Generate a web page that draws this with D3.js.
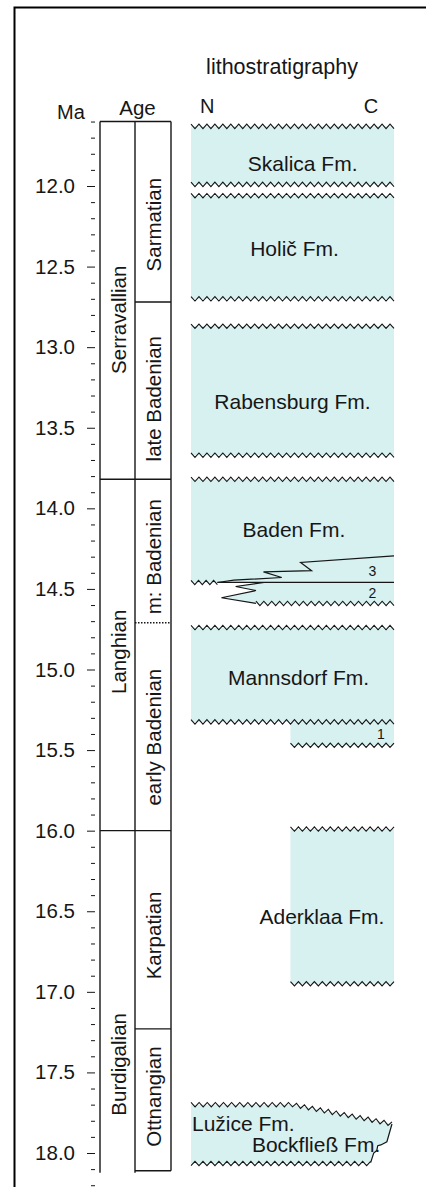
<!DOCTYPE html>
<html>
<head>
<meta charset="utf-8">
<script src="https://cdn.jsdelivr.net/npm/d3@7"></script>
<style>
  body { margin: 0; background: #fff; }
  svg { display: block; font-family: "Liberation Sans", Arial, sans-serif; }
</style>
</head>
<body>
<div id="chart"></div>
<script>

var majorTicks = [12.0, 12.5, 13.0, 13.5, 14.0, 14.5, 15.0, 15.5, 16.0, 16.5, 17.0, 17.5, 18.0];
var chartTop = 11.6, chartBase = 18.11;

var epochs = [
  { name: "Serravallian", top: 11.6, base: 13.82, labelAge: 12.83 },
  { name: "Langhian", top: 13.82, base: 16.0, labelAge: 14.89 },
  { name: "Burdigalian", top: 16.0, base: 18.11, labelAge: 17.45 }
];

var stages = [
  { name: "Sarmatian", top: 11.6, base: 12.72, labelAge: 12.24 },
  { name: "late Badenian", top: 12.72, base: 13.82, labelAge: 13.32 },
  { name: "m: Badenian", top: 13.82, base: 14.71, labelAge: 14.30, dotted: true },
  { name: "early Badenian", top: 14.71, base: 16.0, labelAge: 15.42 },
  { name: "Karpatian", top: 16.0, base: 17.23, labelAge: 16.65 },
  { name: "Ottnangian", top: 17.23, base: 18.11, labelAge: 17.65 }
];

// from / to = share of the lithostratigraphy column (0 = N, 1 = C)
var formations = [
  { name: "Skalica Fm.", from: 0, to: 1, top: 11.63, base: 11.99, labelAge: 11.86, labelAt: 0.55 },
  { name: "Holič Fm.", from: 0, to: 1, top: 12.06, base: 12.70, labelAge: 12.39, labelAt: 0.51 },
  { name: "Rabensburg Fm.", from: 0, to: 1, top: 12.87, base: 13.67, labelAge: 13.34, labelAt: 0.5 },
  { name: "Mannsdorf Fm.", from: 0, to: 1, top: 14.74, base: 15.325, labelAge: 15.05, labelAt: 0.53 },
  { name: "Aderklaa Fm.", from: 0.49, to: 1, top: 15.99, base: 16.95, labelAge: 16.53, labelAt: 0.645 }
];

var badenTop = 13.82, badenLabelAge = 14.13, wedgeAge = 14.46, unit2Base = 14.59;
var wedgeUpper = [[1.0, 14.295], [0.54, 14.336], [0.594, 14.387], [0.357, 14.394], [0.447, 14.429], [0.211, 14.446], [0.13, 14.46]];
var wedgeLower = [[0.36, 14.46], [0.22, 14.485], [0.32, 14.51], [0.15, 14.555], [0.32, 14.59]];
var unit1 = { from: 0.49, to: 1, top: 15.325, base: 15.47 };

var unitLabels = [
  { name: "3", at: 0.893, age: 14.39 },
  { name: "2", at: 0.893, age: 14.527 },
  { name: "1", at: 0.935, age: 15.40 }
];

var luziceTop = [[0, 17.70], [0.5, 17.70], [0.99, 17.82]];
var luziceEdge = [[0.99, 17.82], [0.965, 17.93], [0.935, 17.95], [0.92, 17.955], [0.915, 17.985], [0.90, 18.0], [0.885, 18.06]];
var luziceBase = 18.065;
var luziceLabels = [
  { name: "Lužice Fm.", at: 0.005, age: 17.82 },
  { name: "Bockfließ Fm.", at: 0.30, age: 17.95 }
];

var fillColor = "#d7f0f0", ink = "#161616";

var width = 426, height = 1187;
var svg = d3.select("#chart").append("svg").attr("width", width).attr("height", height);

var y = d3.scaleLinear().domain([12, 18]).range([186, 1153]);
var x = d3.scaleLinear().domain([0, 1]).range([191, 394]);
var colEpoch = [100, 135], colStage = [135, 171];

// outer frame (only left and top visible)
svg.append("path").attr("d", "M14.5," + height + "V7.5H" + width)
  .attr("fill", "none").attr("stroke", "#000").attr("stroke-width", 2);

// wavy line along a pixel polyline
function wavy(pts) {
  var out = [], step = 4, amp = 2.2, k = 0;
  for (var i = 0; i < pts.length - 1; i++) {
    var a = pts[i], b = pts[i + 1];
    var len = Math.hypot(b[0] - a[0], b[1] - a[1]);
    var n = Math.max(1, Math.round(len / step));
    for (var j = (i == 0 ? 0 : 1); j <= n; j++) {
      var t = j / n;
      out.push([a[0] + (b[0] - a[0]) * t, a[1] + (b[1] - a[1]) * t + (k % 2 ? amp : -amp)]);
      k++;
    }
  }
  return d3.line()(out);
}
function px(p) { return [x(p[0]), y(p[1])]; }

var litho = svg.append("g");

// formation blocks
litho.selectAll("rect.fm")
  .data(formations.concat([{ from: 0, to: 1, top: badenTop, base: wedgeAge }, unit1]))
  .enter().append("rect")
  .attr("class", "fm")
  .attr("x", function(d) { return x(d.from); })
  .attr("width", function(d) { return x(d.to) - x(d.from); })
  .attr("y", function(d) { return y(d.top); })
  .attr("height", function(d) { return y(d.base) - y(d.top); })
  .attr("fill", fillColor);

// unit 2 wedge
var unit2 = [[wedgeLower[0][0], wedgeAge], [1, wedgeAge], [1, unit2Base]].concat(wedgeLower.slice().reverse());
litho.append("path").attr("d", d3.line()(unit2.map(px)) + "Z").attr("fill", fillColor);

// Lužice / Bockfließ
var luzice = luziceTop.concat(luziceEdge.slice(1)).concat([[0, luziceBase]]);
litho.append("path").attr("d", d3.line()(luzice.map(px)) + "Z").attr("fill", fillColor);

// wavy boundaries
var waves = [];
formations.forEach(function(d) {
  waves.push([[d.from, d.top], [d.to, d.top]]);
  waves.push([[d.from, d.base], [d.to, d.base]]);
});
waves.push([[0, badenTop], [1, badenTop]]);
waves.push([[0, wedgeAge], [0.13, wedgeAge]]);
waves.push([[wedgeLower[wedgeLower.length - 1][0], unit2Base], [1, unit2Base]]);
waves.push([[unit1.from, unit1.base], [unit1.to, unit1.base]]);
waves.push(luziceTop);
waves.push([[luziceEdge[luziceEdge.length - 1][0], luziceBase], [0, luziceBase]]);

litho.selectAll("path.wave").data(waves).enter().append("path")
  .attr("class", "wave")
  .attr("d", function(d) { return wavy(d.map(px)); })
  .attr("fill", "none").attr("stroke", ink).attr("stroke-width", 1.1);

// straight contacts
var lines = [wedgeUpper, wedgeLower, [[0.13, wedgeAge], [1, wedgeAge]], luziceEdge];
litho.selectAll("path.contact").data(lines).enter().append("path")
  .attr("class", "contact")
  .attr("d", function(d) { return d3.line()(d.map(px)); })
  .attr("fill", "none").attr("stroke", ink).attr("stroke-width", 1.2);

// formation labels
var fmLabels = formations.map(function(d) { return { name: d.name, at: d.labelAt, age: d.labelAge }; });
fmLabels.push({ name: "Baden Fm.", at: 0.507, age: badenLabelAge });
litho.selectAll("text.fm").data(fmLabels).enter().append("text")
  .attr("x", function(d) { return x(d.at); })
  .attr("y", function(d) { return y(d.age); })
  .attr("text-anchor", "middle").attr("dominant-baseline", "central")
  .attr("font-size", 21).attr("fill", ink)
  .text(function(d) { return d.name; });

litho.selectAll("text.lz").data(luziceLabels).enter().append("text")
  .attr("x", function(d) { return x(d.at); })
  .attr("y", function(d) { return y(d.age); })
  .attr("dominant-baseline", "central")
  .attr("font-size", 21).attr("fill", ink)
  .text(function(d) { return d.name; });

litho.selectAll("text.unit").data(unitLabels).enter().append("text")
  .attr("x", function(d) { return x(d.at); })
  .attr("y", function(d) { return y(d.age); })
  .attr("text-anchor", "middle").attr("dominant-baseline", "central")
  .attr("font-size", 14).attr("fill", ink)
  .text(function(d) { return d.name; });

// axis
var axis = svg.append("g").attr("transform", "translate(95,0)");
var minor = d3.range(116, 1812, 1).map(function(v) { return v / 10; })
  .filter(function(v) { return majorTicks.indexOf(v) < 0; });
axis.append("g")
  .call(d3.axisLeft(y).tickValues(minor).tickSize(4).tickFormat(""))
  .call(function(g) { g.select(".domain").remove(); });
axis.append("g")
  .call(d3.axisLeft(y).tickValues(majorTicks).tickSize(8).tickPadding(12).tickFormat(d3.format(".1f")))
  .call(function(g) { g.select(".domain").remove(); })
  .selectAll("text")
  .style("font-size", "20.5px").style("font-family", "'Liberation Sans', Arial, sans-serif")
  .attr("fill", ink);
axis.selectAll(".tick line").attr("stroke", ink);

// age columns
var cols = svg.append("g").attr("fill", "none").attr("stroke", ink).attr("stroke-width", 1.4);
cols.append("line").attr("x1", colEpoch[0]).attr("x2", colEpoch[0]).attr("y1", y(chartTop)).attr("y2", y(chartBase) + 2);
cols.append("line").attr("x1", colEpoch[1]).attr("x2", colEpoch[1]).attr("y1", y(chartTop)).attr("y2", y(chartBase) + 2);
cols.append("line").attr("x1", colStage[1]).attr("x2", colStage[1]).attr("y1", y(chartTop)).attr("y2", y(chartBase));
cols.append("line").attr("x1", colEpoch[0]).attr("x2", colStage[1]).attr("y1", y(chartTop)).attr("y2", y(chartTop));
cols.append("line").attr("x1", colStage[0]).attr("x2", colStage[1]).attr("y1", y(chartBase)).attr("y2", y(chartBase));

cols.selectAll("line.epoch").data(epochs.slice(0, -1)).enter().append("line")
  .attr("x1", colEpoch[0]).attr("x2", colEpoch[1])
  .attr("y1", function(d) { return y(d.base); }).attr("y2", function(d) { return y(d.base); });
cols.selectAll("line.stage").data(stages.slice(0, -1)).enter().append("line")
  .attr("x1", colStage[0]).attr("x2", colStage[1])
  .attr("y1", function(d) { return y(d.base); }).attr("y2", function(d) { return y(d.base); })
  .attr("stroke-dasharray", function(d) { return d.dotted ? "1.5,1.5" : null; });

svg.selectAll("text.epoch").data(epochs).enter().append("text")
  .attr("transform", function(d) { return "translate(118.5," + y(d.labelAge) + ") rotate(-90)"; })
  .attr("text-anchor", "middle").attr("dominant-baseline", "central")
  .attr("font-size", 20.5).attr("fill", ink)
  .text(function(d) { return d.name; });
svg.selectAll("text.stage").data(stages).enter().append("text")
  .attr("transform", function(d) { return "translate(153.5," + y(d.labelAge) + ") rotate(-90)"; })
  .attr("text-anchor", "middle").attr("dominant-baseline", "central")
  .attr("font-size", 20.5).attr("fill", ink)
  .text(function(d) { return d.name; });

// headers
var heads = [
  { t: "lithostratigraphy", x: 282, y: 74, a: "middle", s: 21.5 },
  { t: "Ma", x: 71, y: 119, a: "middle", s: 20 },
  { t: "Age", x: 137.5, y: 115, a: "middle", s: 20.5 },
  { t: "N", x: 200, y: 113, a: "start", s: 20 },
  { t: "C", x: 371, y: 113, a: "middle", s: 20 }
];
svg.selectAll("text.head").data(heads).enter().append("text")
  .attr("x", function(d) { return d.x; }).attr("y", function(d) { return d.y; })
  .attr("text-anchor", function(d) { return d.a; })
  .attr("font-size", function(d) { return d.s; }).attr("fill", ink)
  .text(function(d) { return d.t; });

</script>
</body>
</html>
